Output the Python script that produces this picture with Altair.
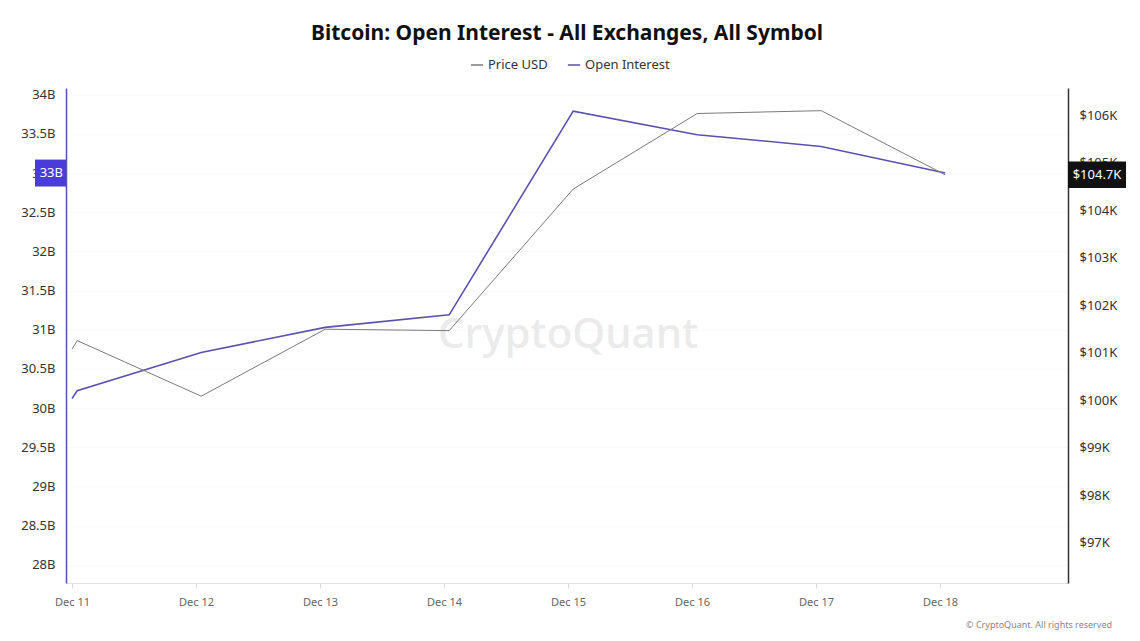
import altair as alt
import pandas as pd

# ---- data ----
times = [
    "2024-12-11T00:00:00Z", "2024-12-11T01:00:00Z", "2024-12-12T01:00:00Z",
    "2024-12-13T01:00:00Z", "2024-12-14T01:00:00Z", "2024-12-15T01:00:00Z",
    "2024-12-16T01:00:00Z", "2024-12-17T01:00:00Z", "2024-12-18T01:00:00Z",
]
open_interest_b = [30.12, 30.22, 30.71, 31.03, 31.19, 33.79, 33.49, 33.34, 33.00]
price_k = [101.08, 101.26, 100.09, 101.50, 101.47, 104.45, 106.04, 106.10, 104.75]
series_names = ["Price USD", "Open Interest"]
series_colors = ["#7a7a7a", "#5a50b0"]
left_ticks = [28, 28.5, 29, 29.5, 30, 30.5, 31, 31.5, 32, 32.5, 33, 33.5, 34]
right_ticks = [97, 98, 99, 100, 101, 102, 103, 104, 105, 106]
oi_last_label = "33B"
price_last_label = "$104.7K"

FONT = "Noto Sans"

oi_df = pd.DataFrame({"time": times, "value": open_interest_b, "series": series_names[1]})
price_df = pd.DataFrame({"time": times, "value": price_k, "series": series_names[0]})

x_scale = alt.Scale(
    type="utc",
    domain=[alt.DateTime(year=2024, month=12, date=10, hours=22, minutes=50, utc=True),
            alt.DateTime(year=2024, month=12, date=19, hours=0, minutes=46, utc=True)],
)
x_ticks = [alt.DateTime(year=2024, month=12, date=d, utc=True) for d in range(11, 19)]
x_enc = alt.X(
    "time:T", scale=x_scale, title=None,
    axis=alt.Axis(values=x_ticks, format="%b %d", labelFont=FONT, labelFontSize=11,
                  labelColor="#666", domainColor="#e3e3e3", tickColor="#dddddd",
                  tickSize=5, labelPadding=8, grid=False, labelFlush=False),
)
color_enc = alt.Color(
    "series:N", title=None,
    scale=alt.Scale(domain=series_names, range=series_colors),
    legend=alt.Legend(orient="none", legendX=404, legendY=-30, direction="horizontal",
                      symbolType="stroke", symbolSize=150, symbolStrokeWidth=1.5,
                      labelFont=FONT, labelFontSize=13, labelColor="#333",
                      columnPadding=16, symbolOffset=0),
)

left_scale = alt.Scale(domain=[27.766, 34.086], nice=False, zero=False)
right_scale = alt.Scale(domain=[96.158, 106.577], nice=False, zero=False)

# watermark + copyright
wm = alt.Chart(pd.DataFrame({"t": ["CryptoQuant"]})).mark_text(
    font=FONT, fontSize=42, color="#ebebeb", fontWeight=500
).encode(text="t:N", x=alt.value(502), y=alt.value(247))
copy = alt.Chart(pd.DataFrame({"t": ["© CryptoQuant. All rights reserved"]})).mark_text(
    font=FONT, fontSize=9, color="#888", align="right"
).encode(text="t:N", x=alt.value(1046), y=alt.value(537))

oi_line = alt.Chart(oi_df).mark_line(strokeWidth=1.6).encode(
    x=x_enc,
    y=alt.Y("value:Q", scale=left_scale, title=None,
            axis=alt.Axis(orient="left", values=left_ticks, labelExpr="datum.value + 'B'",
                          labelFont=FONT, labelFontSize=13, labelColor="#333",
                          ticks=False, labelPadding=11, domainColor="#5a50b0",
                          domainWidth=1.5, grid=True, gridColor="#fafafa")),
    color=color_enc,
)
oi_last = oi_df.tail(1)
oi_box = alt.Chart(oi_last).transform_calculate(
    lo="datum.value - 0.172", hi="datum.value + 0.172"
).mark_rect(color="#4a3cd6").encode(
    x=alt.value(-31), x2=alt.value(0),
    y=alt.Y("lo:Q", scale=left_scale), y2="hi:Q",
)
oi_txt = alt.Chart(oi_last).transform_calculate(lbl=f"'{oi_last_label}'").mark_text(
    font=FONT, fontSize=13, color="white", align="right", baseline="middle"
).encode(x=alt.value(-3), y=alt.Y("value:Q", scale=left_scale), text="lbl:N")

price_line = alt.Chart(price_df).mark_line(strokeWidth=1).encode(
    x=x_enc,
    y=alt.Y("value:Q", scale=right_scale, title=None,
            axis=alt.Axis(orient="right", values=right_ticks,
                          labelExpr="'$' + datum.value + 'K'",
                          labelFont=FONT, labelFontSize=13, labelColor="#333",
                          ticks=False, labelPadding=11, domainColor="#333",
                          domainWidth=1.5, grid=False)),
    color=color_enc,
)
p_last = price_df.tail(1)
p_box = alt.Chart(p_last).transform_calculate(
    lo="datum.value - 0.28", hi="datum.value + 0.28"
).mark_rect(color="#111").encode(
    x=alt.value(1002), x2=alt.value(1060),
    y=alt.Y("lo:Q", scale=right_scale), y2="hi:Q",
)
p_txt = alt.Chart(p_last).transform_calculate(lbl=f"'{price_last_label}'").mark_text(
    font=FONT, fontSize=13, color="white", align="center", baseline="middle"
).encode(x=alt.value(1031), y=alt.Y("value:Q", scale=right_scale), text="lbl:N")

left = alt.layer(wm, copy, oi_line, oi_box, oi_txt)
right = alt.layer(price_line, p_box, p_txt)

chart = alt.layer(left, right).resolve_scale(y="independent").properties(
    width=1002, height=495,
    title=alt.TitleParams("Bitcoin: Open Interest - All Exchanges, All Symbol",
                          font=FONT, fontSize=21, fontWeight="bold", color="#111",
                          anchor="middle", offset=14),
    autosize=alt.AutoSizeParams(type="none"),
    padding={"left": 66, "top": 88, "right": 72, "bottom": 58},
    background="white",
).configure_view(stroke=None)

chart.save("out.html", embed_options={"renderer": "svg", "actions": False})
